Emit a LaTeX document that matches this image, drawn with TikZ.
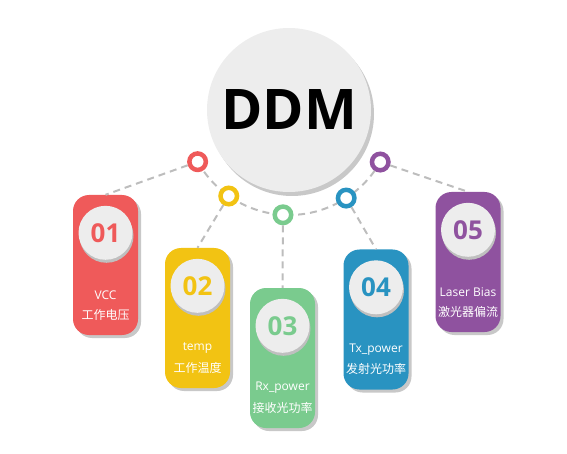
\documentclass[tikz,border=0pt]{standalone}
\usepackage{fontspec}
\setmainfont{Open Sans}
\newfontfamily\cjk{Noto Sans CJK SC}
\usetikzlibrary{shadows,backgrounds}
\definecolor{cred}{HTML}{EF5A5A}
\definecolor{cyel}{HTML}{F2C313}
\definecolor{cgrn}{HTML}{7ACB8E}
\definecolor{cblu}{HTML}{2993C1}
\definecolor{cpur}{HTML}{8F529F}
\definecolor{cgry}{HTML}{EDEDED}
\definecolor{cdash}{HTML}{BDBDBD}
\definecolor{cshd}{HTML}{C8C8C8}
\tikzset{
  x=1pt, y=-1pt,
  dashline/.style={draw=cdash, line width=2pt, dash pattern=on 7pt off 5pt},
  card/.style={rectangle, rounded corners=16pt, minimum width=65pt, minimum height=140pt, inner sep=0pt,
    fill=#1, drop shadow={shadow xshift=3pt, shadow yshift=-3pt, fill=cshd, opacity=1}},
  numc/.style={circle, fill=cgry, minimum size=54pt, inner sep=0pt, text=#1,
    font=\fontsize{26pt}{28pt}\selectfont\bfseries,
    drop shadow={shadow xshift=1pt, shadow yshift=-3pt, fill=black!25, opacity=1}},
  lbl/.style={text=white, inner sep=0pt, font=\fontsize{12pt}{14pt}\selectfont},
  ring/.style={circle, draw=#1, line width=4.5pt, fill=white, minimum size=16.5pt, inner sep=0pt},
}
\begin{document}
\begin{tikzpicture}
\useasboundingbox (0,0) rectangle (567,454);
\coordinate (c) at (289,110);
\node[circle, fill=cgry, minimum size=164pt, inner sep=0pt,
  drop shadow={shadow xshift=3pt, shadow yshift=-4pt, fill=cshd, opacity=1},
  font=\fontsize{56pt}{60pt}\selectfont\bfseries] (ddm) at (c) {DDM};

\node[ring=cred] (r1) at ([shift={(209.5:105pt)}]c) {};
\node[ring=cyel] (r2) at ([shift={(235:105pt)}]c) {};
\node[ring=cgrn] (r3) at ([shift={(266.7:105pt)}]c) {};
\node[ring=cblu] (r4) at ([shift={(303:105pt)}]c) {};
\node[ring=cpur] (r5) at ([shift={(330.3:105pt)}]c) {};

\node[card=cred] (b1) at (105.5,265) {};
\node[card=cyel] (b2) at (197.5,318) {};
\node[card=cgrn] (b3) at (282.5,358) {};
\node[card=cblu] (b4) at (376,319.5) {};
\node[card=cpur] (b5) at (468,262) {};

\node[numc=cred] (n1) at ([yshift=-38pt]b1.north) {01};
\node[numc=cyel] (n2) at ([yshift=-38pt]b2.north) {02};
\node[numc=cgrn] (n3) at ([yshift=-38pt]b3.north) {03};
\node[numc=cblu] (n4) at ([yshift=-38pt]b4.north) {04};
\node[numc=cpur] (n5) at ([yshift=-38pt]b5.north) {05};

\node[lbl] (t1) at ([yshift=-100pt]b1.north) {VCC};
\node[lbl] (z1) at ([yshift=-120pt]b1.north) {\cjk 工作电压};
\node[lbl] (t2) at ([yshift=-100pt]b2.north) {temp};
\node[lbl] (z2) at ([yshift=-120pt]b2.north) {\cjk 工作温度};
\node[lbl] (t3) at ([yshift=-100pt]b3.north) {Rx\_power};
\node[lbl] (z3) at ([yshift=-120pt]b3.north) {\cjk 接收光功率};
\node[lbl] (t4) at ([yshift=-100pt]b4.north) {Tx\_power};
\node[lbl] (z4) at ([yshift=-120pt]b4.north) {\cjk 发射光功率};
\node[lbl] (t5) at ([yshift=-100pt]b5.north) {Laser Bias};
\node[lbl] (z5) at ([yshift=-120pt]b5.north) {\cjk 激光器偏流};

\begin{pgfonlayer}{background}
\draw[dashline] ([shift={(209.5:105pt)}]c) arc[start angle=209.5, end angle=330.3, radius=105pt];
\end{pgfonlayer}
\draw[dashline] (r1) -- (b1.north);
\draw[dashline] (r2) -- (b2.north);
\draw[dashline] (r3) -- (b3.north);
\draw[dashline] (r4) -- (b4.north);
\draw[dashline] (r5) -- (b5.north);
\end{tikzpicture}
\end{document}
